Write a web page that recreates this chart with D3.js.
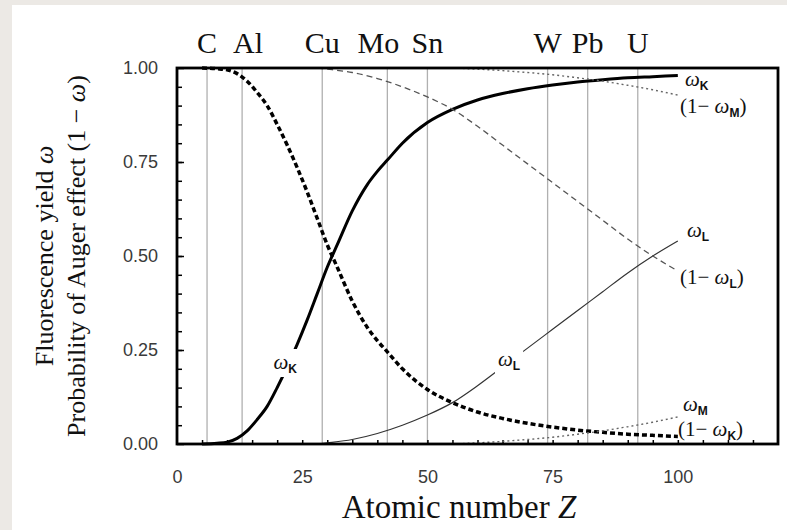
<!DOCTYPE html>
<html>
<head>
<meta charset="utf-8">
<script src="https://cdn.jsdelivr.net/npm/d3@7"></script>
<style>
  body { margin: 0; background: #ece9e5; }
  svg { display: block; }
</style>
</head>
<body>
<div id="container"></div>
<script>
/* DATA */
const zK = [5, 8, 10, 12, 14, 16, 18, 20, 22, 24, 26, 28, 30, 32, 35, 38, 40, 42, 45, 50, 55, 60, 65, 70, 75, 80, 85, 90, 95, 100];
const omegaK = [0, 0.002, 0.005, 0.015, 0.035, 0.065, 0.10, 0.15, 0.205, 0.265, 0.33, 0.40, 0.47, 0.53, 0.62, 0.69, 0.725, 0.755, 0.80, 0.855, 0.89, 0.915, 0.932, 0.945, 0.955, 0.963, 0.969, 0.974, 0.977, 0.98];

const zL = [28, 30, 35, 40, 45, 50, 55, 60, 65, 70, 75, 80, 85, 90, 95, 100];
const omegaL = [0, 0.003, 0.012, 0.028, 0.05, 0.077, 0.11, 0.155, 0.205, 0.255, 0.305, 0.355, 0.405, 0.455, 0.50, 0.54];

const zM = [55, 60, 65, 70, 75, 80, 85, 90, 95, 100];
const omegaM = [0, 0.003, 0.007, 0.012, 0.018, 0.026, 0.035, 0.046, 0.058, 0.072];

const elements = ["C", "Al", "Cu", "Mo", "Sn", "W", "Pb", "U"];
const elementZ = [6, 13, 29, 42, 50, 74, 82, 92];

const xTickLabels = [0, 25, 50, 75, 100];
const yTickLabels = [0, 0.25, 0.5, 0.75, 1];

/* CONSTANTS */
const width = 787, height = 530;
const margin = { top: 68, right: 9, bottom: 86, left: 177 };

const svg = d3.select("#container")
  .append("svg")
  .attr("width", width)
  .attr("height", height);

// white page with grey strip on left and top
svg.append("rect")
  .attr("x", 12).attr("y", 5)
  .attr("width", width - 12).attr("height", height - 5)
  .attr("fill", "white");

const x = d3.scaleLinear().domain([0, 120]).range([margin.left, width - margin.right]);
const y = d3.scaleLinear().domain([0, 1]).range([height - margin.bottom, margin.top]);

// gridlines at elements
svg.selectAll("line.grid")
  .data(elementZ)
  .join("line")
  .attr("class", "grid")
  .attr("x1", d => x(d)).attr("x2", d => x(d))
  .attr("y1", y(0)).attr("y2", y(1))
  .attr("stroke", "#b0b0b0")
  .attr("stroke-width", 1.3);

// element names on top
const nudge = { Al: 6, Mo: -9 };
svg.selectAll("text.elem")
  .data(elements)
  .join("text")
  .attr("class", "elem")
  .attr("x", (d, i) => x(elementZ[i]) + (nudge[d] || 0))
  .attr("y", 53)
  .attr("text-anchor", "middle")
  .style("font-family", "Liberation Serif, Times New Roman, serif")
  .style("font-size", "30px")
  .attr("fill", "#111")
  .text(d => d);

// AXES
const tickFont = "Liberation Sans, Arial, sans-serif";

svg.append("g")
  .attr("transform", `translate(0,${y(0)})`)
  .call(d3.axisBottom(x).tickValues(d3.range(5, 120, 5)).tickSize(-4).tickFormat(""))
  .call(g => g.select(".domain").remove())
  .call(g => g.selectAll("line").attr("stroke-width", 1.5));

svg.append("g")
  .attr("transform", `translate(0,${y(0)})`)
  .call(d3.axisBottom(x).tickValues(xTickLabels).tickSize(0).tickPadding(26))
  .call(g => g.select(".domain").remove())
  .call(g => g.selectAll("text")
    .style("font-family", tickFont)
    .style("font-size", "18px")
    .attr("fill", "#3a3a3a"));

svg.append("g")
  .attr("transform", `translate(${x(0)},0)`)
  .call(d3.axisLeft(y).tickValues(d3.range(0.05, 1, 0.05)).tickSize(-5).tickFormat(""))
  .call(g => g.select(".domain").remove())
  .call(g => g.selectAll("line").attr("stroke-width", 1.5));

svg.append("g")
  .attr("transform", `translate(${x(0)},0)`)
  .call(d3.axisLeft(y).tickValues(yTickLabels).tickSize(-7).tickPadding(19).tickFormat(d3.format(".2f")))
  .call(g => g.select(".domain").remove())
  .call(g => g.selectAll("line").attr("stroke-width", 1.5))
  .call(g => g.selectAll("text")
    .style("font-family", tickFont)
    .style("font-size", "18px")
    .attr("fill", "#3a3a3a"));

// CURVES
const line = d3.line()
  .x(d => x(d[0]))
  .y(d => y(d[1]))
  .curve(d3.curveMonotoneX);

const series = [
  { pts: zK.map((z, i) => [z, omegaK[i]]), stroke: "#000", w: 3, dash: null },
  { pts: zK.map((z, i) => [z, 1 - omegaK[i]]), stroke: "#000", w: 3.5, dash: "5,3" },
  { pts: zL.map((z, i) => [z, omegaL[i]]), stroke: "#333", w: 1.2, dash: null },
  { pts: zL.map((z, i) => [z, 1 - omegaL[i]]), stroke: "#555", w: 1.3, dash: "6,4" },
  { pts: zM.map((z, i) => [z, omegaM[i]]), stroke: "#666", w: 1.4, dash: "2,3" },
  { pts: zM.map((z, i) => [z, 1 - omegaM[i]]), stroke: "#666", w: 1.4, dash: "2,3" }
];

svg.selectAll("path.curve")
  .data(series)
  .join("path")
  .attr("class", "curve")
  .attr("d", d => line(d.pts))
  .attr("fill", "none")
  .attr("stroke", d => d.stroke)
  .attr("stroke-width", d => d.w)
  .attr("stroke-dasharray", d => d.dash);

// frame
svg.append("rect")
  .attr("x", x(0)).attr("y", y(1))
  .attr("width", x(120) - x(0))
  .attr("height", y(0) - y(1))
  .attr("fill", "none")
  .attr("stroke", "#000")
  .attr("stroke-width", 2.8);

// LABELS
function omegaLabel(g, sub, one) {
  const t = g.append("text")
    .style("font-family", "Liberation Serif, Times New Roman, serif")
    .style("font-size", "21px")
    .attr("fill", "#111");
  if (one) t.append("tspan").text("(1\u2212 ");
  t.append("tspan").style("font-style", "italic").text("\u03c9");
  t.append("tspan")
    .attr("dy", 4)
    .style("font-family", tickFont)
    .style("font-weight", "bold")
    .style("font-size", "12px")
    .text(sub);
  if (one) t.append("tspan").attr("dy", -4).text(")");
  return t;
}

// labels sitting in gaps of curves
[[21.6, "K", 369], [66.3, "L", 366]].forEach(([z, sub, yy]) => {
  const g = svg.append("g");
  const t = omegaLabel(g, sub, false)
    .attr("x", x(z)).attr("y", yy)
    .attr("text-anchor", "middle");
  const b = t.node().getBBox();
  g.insert("rect", "text")
    .attr("x", b.x - 3).attr("y", b.y - 1)
    .attr("width", b.width + 6).attr("height", b.height + 2)
    .attr("fill", "white");
});

// end labels on the right
const endLabels = [
  { sub: "K", one: false, y: 86, dx: 685 },
  { sub: "M", one: true, y: 113, dx: 680 },
  { sub: "L", one: false, y: 237, dx: 687 },
  { sub: "L", one: true, y: 284, dx: 680 },
  { sub: "M", one: false, y: 411, dx: 683 },
  { sub: "K", one: true, y: 436, dx: 678 }
];
endLabels.forEach(d => {
  omegaLabel(svg, d.sub, d.one).attr("x", d.dx).attr("y", d.y);
});

// AXIS TITLES
svg.append("text")
  .attr("x", 459).attr("y", 518)
  .attr("text-anchor", "middle")
  .style("font-family", "Liberation Serif, Times New Roman, serif")
  .style("font-size", "33px")
  .attr("fill", "#111")
  .call(t => {
    t.append("tspan").text("Atomic number  ");
    t.append("tspan").style("font-style", "italic").text("Z");
  });

const yTitle = svg.append("g")
  .style("font-family", "Liberation Serif, Times New Roman, serif")
  .style("font-size", "26px")
  .attr("fill", "#111");

yTitle.append("text")
  .attr("transform", "translate(53,256) rotate(-90)")
  .attr("text-anchor", "middle")
  .call(t => {
    t.append("tspan").text("Fluorescence yield ");
    t.append("tspan").style("font-style", "italic").text("\u03c9");
  });

yTitle.append("text")
  .attr("transform", "translate(85,256) rotate(-90)")
  .attr("text-anchor", "middle")
  .call(t => {
    t.append("tspan").text("Probability of Auger effect (1 \u2212 ");
    t.append("tspan").style("font-style", "italic").text("\u03c9");
    t.append("tspan").text(")");
  });
</script>
</body>
</html>
